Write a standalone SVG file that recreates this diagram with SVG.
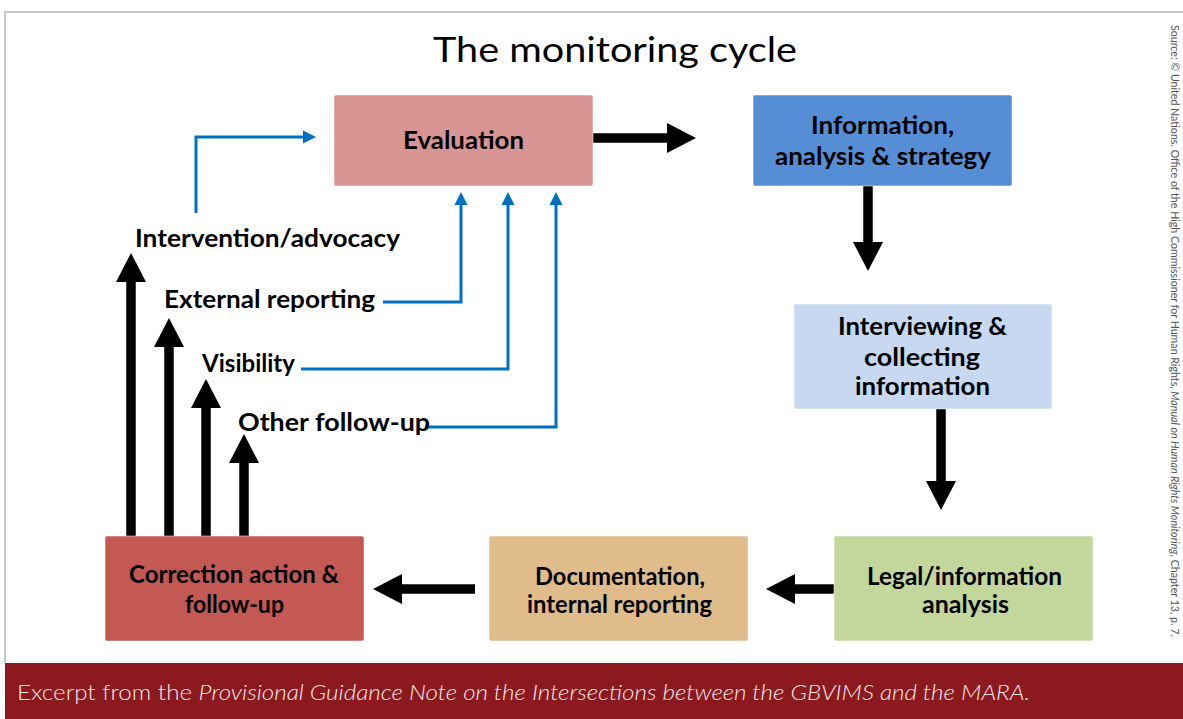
<svg xmlns="http://www.w3.org/2000/svg" width="1183" height="719" viewBox="0 0 1183 719">
<style>
.box{stroke-width:1.5;stroke-opacity:0.35;stroke:#ffffff}
.t{font-family:Lato,"Open Sans","Liberation Sans",sans-serif;font-weight:700;fill:#000}
.tl{font-size:24px}
.tb{font-size:25px}
.blk{stroke:#000;stroke-width:9.5;fill:none;marker-end:url(#bh)}
.blu{stroke:#0070C0;stroke-width:3;fill:none;marker-end:url(#uh)}
</style>
<defs>
<marker id="bh" markerUnits="userSpaceOnUse" markerWidth="30" markerHeight="30" refX="2" refY="15" orient="auto" overflow="visible">
<path d="M0,0 L29,15 L0,30 Z" fill="#000"/>
</marker>
<marker id="uh" markerUnits="userSpaceOnUse" markerWidth="13" markerHeight="13" refX="1" refY="6.5" orient="auto" overflow="visible">
<path d="M0,0 L13,6.5 L0,13 Z" fill="#0070C0"/>
</marker>
</defs>
<rect x="0" y="0" width="1183" height="719" fill="#fff"/>
<path d="M5,663 V12 H1183" fill="none" stroke="#C8C8C8" stroke-width="2"/>
<text x="433" y="62" font-family="Lato,'Open Sans','Liberation Sans',sans-serif" font-size="35" fill="#000" textLength="364" lengthAdjust="spacingAndGlyphs">The monitoring cycle</text>

<g id="connectors">
<line class="blk" x1="593" y1="138" x2="669" y2="138"/>
<line class="blk" x1="868" y1="186" x2="868" y2="244"/>
<line class="blk" x1="941" y1="409" x2="941" y2="483"/>
<line class="blk" x1="834" y1="589" x2="793" y2="589"/>
<line class="blk" x1="475" y1="589" x2="400" y2="589"/>
<line class="blk" x1="131" y1="537" x2="131" y2="280"/>
<line class="blk" x1="169" y1="537" x2="169" y2="345"/>
<line class="blk" x1="206" y1="537" x2="206" y2="406"/>
<line class="blk" x1="244" y1="537" x2="244" y2="461"/>
<polyline class="blu" points="196,213 196,137 304,137"/>
<polyline class="blu" points="383,302 461,302 461,204"/>
<polyline class="blu" points="301,369 508,369 508,204"/>
<polyline class="blu" points="425,427 556,427 556,204"/>
</g>

<g id="evaluation">
<rect class="box" x="334" y="95" width="259" height="91" rx="2" fill="#D99594"/>
<text class="t tl" x="403" y="149" textLength="121" lengthAdjust="spacingAndGlyphs">Evaluation</text>
</g>
<g id="information">
<rect class="box" x="753" y="95" width="259" height="91" rx="2" fill="#558ED5"/>
<text class="t tl" x="811" y="134" textLength="143" lengthAdjust="spacingAndGlyphs">Information,</text>
<text class="t tl" x="775" y="165" textLength="216" lengthAdjust="spacingAndGlyphs">analysis &amp; strategy</text>
</g>
<g id="interviewing">
<rect class="box" x="794" y="304" width="258" height="105" rx="2" fill="#C6D9F1"/>
<text class="t tl" x="838" y="335" textLength="169" lengthAdjust="spacingAndGlyphs">Interviewing &amp;</text>
<text class="t tl" x="864" y="366" textLength="116" lengthAdjust="spacingAndGlyphs">collecting</text>
<text class="t tl" x="855" y="395" textLength="135" lengthAdjust="spacingAndGlyphs">information</text>
</g>
<g id="legal">
<rect class="box" x="834" y="536" width="259" height="105" rx="2" fill="#C3D69B"/>
<text class="t tb" x="867" y="585" textLength="195" lengthAdjust="spacingAndGlyphs">Legal/information</text>
<text class="t tb" x="922" y="613" textLength="87" lengthAdjust="spacingAndGlyphs">analysis</text>
</g>
<g id="documentation">
<rect class="box" x="489" y="536" width="259" height="105" rx="2" fill="#E0BC8B"/>
<text class="t tb" x="535" y="585" textLength="170" lengthAdjust="spacingAndGlyphs">Documentation,</text>
<text class="t tb" x="527" y="613" textLength="185" lengthAdjust="spacingAndGlyphs">internal reporting</text>
</g>
<g id="correction">
<rect class="box" x="105" y="536" width="259" height="105" rx="2" fill="#C45853"/>
<text class="t tb" x="129" y="583" textLength="210" lengthAdjust="spacingAndGlyphs">Correction action &amp;</text>
<text class="t tb" x="185" y="613" textLength="99" lengthAdjust="spacingAndGlyphs">follow-up</text>
</g>
<g id="intervention">
<text class="t tl" x="135" y="247" textLength="265" lengthAdjust="spacingAndGlyphs">Intervention/advocacy</text>
</g>
<g id="external">
<text class="t tl" x="164" y="308" textLength="211" lengthAdjust="spacingAndGlyphs">External reporting</text>
</g>
<g id="visibility">
<text class="t tl" x="202" y="372" textLength="93" lengthAdjust="spacingAndGlyphs">Visibility</text>
</g>
<g id="other">
<text class="t tl" x="238" y="431" textLength="192" lengthAdjust="spacingAndGlyphs">Other follow-up</text>
</g>

<text transform="translate(1171,25) rotate(90)" font-family="Lato,'Liberation Sans',sans-serif" font-size="10.5" fill="#555" textLength="612" lengthAdjust="spacingAndGlyphs">Source: © United Nations. Office of the High Commissioner for Human Rights, <tspan font-style="italic">Manual on Human Rights Monitoring</tspan>, Chapter 13, p. 7.</text>

<rect x="5" y="663" width="1178" height="56" fill="#8C191E"/>
<text x="17" y="700" font-family="Lato,'Open Sans','Liberation Sans',sans-serif" font-weight="300" font-size="21" fill="#F5E8E8" textLength="1013" lengthAdjust="spacingAndGlyphs">Excerpt from the <tspan font-style="italic">Provisional Guidance Note on the Intersections between the GBVIMS and the MARA.</tspan></text>
</svg>
